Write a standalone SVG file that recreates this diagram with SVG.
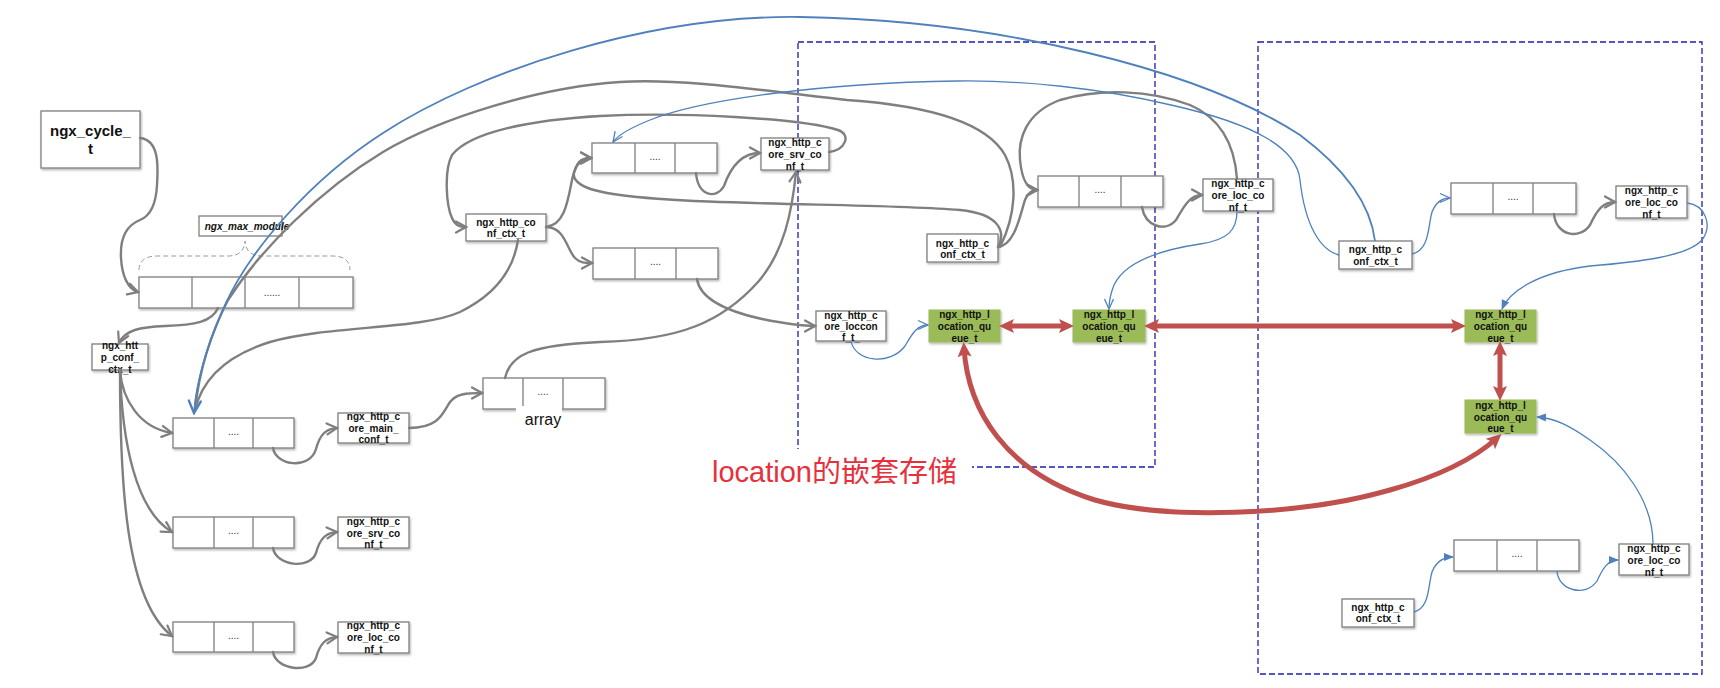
<svg xmlns="http://www.w3.org/2000/svg" width="1720" height="688" viewBox="0 0 1720 688">
<style>
.bx{fill:#fff;stroke:#7f7f7f;stroke-width:1.3;filter:url(#sh)}
.gr{fill:#9bbb59;stroke:#9bbb59;stroke-width:1;filter:url(#sh)}
.cl{stroke:#7f7f7f;stroke-width:1.3}
.t{font-family:"Liberation Sans",Arial,sans-serif;font-size:10px;font-weight:bold;fill:#111;text-anchor:middle}
.d{font-family:"Liberation Sans",Arial,sans-serif;font-size:10px;fill:#333;text-anchor:middle}
.g{fill:none;stroke:#7f7f7f;stroke-width:2.4;stroke-linecap:round}
.b{fill:none;stroke:#4f81bd;stroke-width:1.3}
.r{fill:none;stroke:#c0504d;stroke-width:5}
.dash{fill:none;stroke:#1c1cb0;stroke-width:1.3;stroke-dasharray:6 3}
</style>
<defs>
<filter id="sh" x="-10%" y="-10%" width="130%" height="140%"><feDropShadow dx="1" dy="1.5" stdDeviation="1" flood-color="#000" flood-opacity="0.3"/></filter>
<marker id="ga" markerUnits="userSpaceOnUse" viewBox="0 0 14 14" refX="12" refY="7" markerWidth="14" markerHeight="14" orient="auto"><path d="M2,1.5 L12,7 L2,12.5" fill="none" stroke="#7f7f7f" stroke-width="2.2" stroke-linecap="round"/></marker>
<marker id="bo" markerUnits="userSpaceOnUse" viewBox="0 0 12 12" refX="11" refY="6" markerWidth="12" markerHeight="12" orient="auto"><path d="M1,1.5 L11,6 L1,10.5" fill="none" stroke="#4f81bd" stroke-width="1.3"/></marker>
<marker id="bb" markerUnits="userSpaceOnUse" viewBox="0 0 16 16" refX="14" refY="8" markerWidth="16" markerHeight="16" orient="auto"><path d="M2,2 L14,8 L2,14" fill="none" stroke="#4f81bd" stroke-width="2.4" stroke-linecap="round"/></marker>
<marker id="bf" markerUnits="userSpaceOnUse" viewBox="0 0 10 10" refX="9" refY="5" markerWidth="10" markerHeight="10" orient="auto"><path d="M0,1 L10,5 L0,9 z" fill="#4f81bd"/></marker>
<marker id="ra" markerUnits="userSpaceOnUse" viewBox="0 0 16 16" refX="9" refY="8" markerWidth="16" markerHeight="16" orient="auto-start-reverse"><path d="M0,1 L15,8 L0,15 L3,8 z" fill="#c0504d"/></marker>
</defs>
<rect width="1720" height="688" fill="#fff"/>

<g id="frames">
<rect class="dash" x="798" y="42" width="357" height="425"/>
<rect class="dash" x="1258" y="42" width="444" height="632"/>
<rect x="700" y="449" width="272" height="42" fill="#fff"/>
<text x="712" y="482" font-family="'Liberation Sans','Noto Sans CJK SC',sans-serif" font-size="29" fill="#e8303c">location的嵌套存储</text>
</g>

<g id="ngx_cycle_t"><rect class="bx" x="41" y="111" width="99" height="57"/>
<text class="t" x="90.5" y="136" style="font-size:15px">ngx_cycle_</text><text class="t" x="90.5" y="153.5" style="font-size:15px">t</text></g>

<g id="ngx_max_module"><rect class="bx" x="199" y="216" width="83" height="20" style="filter:none"/>
<text class="t" x="247" y="229.5" font-style="italic">ngx_max_module</text>
<path d="M139,270 Q139,256 158,256 L228,256 Q244,256 245,241 Q246,256 262,256 L332,256 Q350,256 350,270" fill="none" stroke="#9a9a9a" stroke-width="1" stroke-dasharray="5 3"/></g>

<g id="modules_array"><rect class="bx" x="139" y="277" width="214" height="31"/>
<path class="cl" d="M192,277V308M245,277V308M299,277V308"/><text class="d" x="272" y="296">......</text></g>

<g id="http_conf_ctx"><rect class="bx" x="92" y="344" width="56" height="26"/>
<text class="t" x="120" y="349">ngx_htt</text><text class="t" x="120" y="361">p_conf_</text><text class="t" x="120" y="373">ctx_t</text></g>

<g id="main_arr"><rect class="bx" x="173" y="418" width="121" height="30"/><path class="cl" d="M214,418V448M253,418V448"/><text class="d" x="233.5" y="435">....</text></g>
<g id="srv_arr"><rect class="bx" x="173" y="517" width="121" height="31"/><path class="cl" d="M214,517V548M253,517V548"/><text class="d" x="233.5" y="534">....</text></g>
<g id="loc_arr"><rect class="bx" x="173" y="622" width="121" height="30"/><path class="cl" d="M214,622V652M253,622V652"/><text class="d" x="233.5" y="639">....</text></g>

<g id="core_main_conf"><rect class="bx" x="338" y="413" width="71" height="30"/>
<text class="t" x="373.5" y="419.5">ngx_http_c</text><text class="t" x="373.5" y="431.5">ore_main_</text><text class="t" x="373.5" y="443">conf_t</text></g>
<g id="core_srv_conf_l"><rect class="bx" x="338" y="517" width="71" height="31"/>
<text class="t" x="373.5" y="524.5">ngx_http_c</text><text class="t" x="373.5" y="536.5">ore_srv_co</text><text class="t" x="373.5" y="548">nf_t</text></g>
<g id="core_loc_conf_l"><rect class="bx" x="338" y="622" width="71" height="31"/>
<text class="t" x="373.5" y="628.5">ngx_http_c</text><text class="t" x="373.5" y="640.5">ore_loc_co</text><text class="t" x="373.5" y="652.5">nf_t</text></g>

<g id="servers_array"><rect class="bx" x="483" y="378" width="122" height="31"/><path class="cl" d="M523,378V409M563,378V409"/><text class="d" x="543" y="395">....</text>
<rect x="516" y="406" width="46" height="24" fill="#fff"/>
<text x="543" y="425" font-family="'Liberation Sans',Arial,sans-serif" font-size="16" fill="#111" text-anchor="middle">array</text></g>

<g id="srv_conf_ctx"><rect class="bx" x="466" y="214" width="80" height="27"/>
<text class="t" x="506" y="225.5">ngx_http_co</text><text class="t" x="506" y="237">nf_ctx_t</text></g>
<g id="srv_srv_arr"><rect class="bx" x="592" y="143" width="125" height="30"/><path class="cl" d="M635,143V173M675,143V173"/><text class="d" x="655" y="160">....</text></g>
<g id="srv_loc_arr"><rect class="bx" x="593" y="248" width="125" height="31"/><path class="cl" d="M635,248V279M676,248V279"/><text class="d" x="655.5" y="265">....</text></g>
<g id="core_srv_conf"><rect class="bx" x="761" y="138" width="68" height="32"/>
<text class="t" x="795" y="146">ngx_http_c</text><text class="t" x="795" y="158">ore_srv_co</text><text class="t" x="795" y="169.5">nf_t</text></g>
<g id="core_locconf"><rect class="bx" x="816" y="311" width="70" height="30"/>
<text class="t" x="851" y="318.5">ngx_http_c</text><text class="t" x="851" y="330">ore_loccon</text><text class="t" x="851" y="341">f_t_</text></g>

<g id="loc_conf_ctx"><rect class="bx" x="927" y="234" width="71" height="28"/>
<text class="t" x="962.5" y="246.5">ngx_http_c</text><text class="t" x="962.5" y="258">onf_ctx_t</text></g>
<g id="loc_loc_arr"><rect class="bx" x="1038" y="176" width="125" height="31"/><path class="cl" d="M1079,176V207M1121,176V207"/><text class="d" x="1100" y="193">....</text></g>
<g id="core_loc_conf_m"><rect class="bx" x="1203" y="179" width="70" height="32"/>
<text class="t" x="1238" y="186.5">ngx_http_c</text><text class="t" x="1238" y="198.5">ore_loc_co</text><text class="t" x="1238" y="210.5">nf_t</text></g>

<g id="queue1"><rect class="gr" x="929" y="310" width="71" height="32"/>
<text class="t" x="964.5" y="317.5">ngx_http_l</text><text class="t" x="964.5" y="329.5">ocation_qu</text><text class="t" x="964.5" y="341.5">eue_t</text></g>
<g id="queue2"><rect class="gr" x="1073" y="310" width="72" height="32"/>
<text class="t" x="1109" y="317.5">ngx_http_l</text><text class="t" x="1109" y="329.5">ocation_qu</text><text class="t" x="1109" y="341.5">eue_t</text></g>
<g id="queue3"><rect class="gr" x="1465" y="310" width="71" height="32"/>
<text class="t" x="1500.5" y="317.5">ngx_http_l</text><text class="t" x="1500.5" y="329.5">ocation_qu</text><text class="t" x="1500.5" y="341.5">eue_t</text></g>
<g id="queue4"><rect class="gr" x="1465" y="400" width="71" height="33"/>
<text class="t" x="1500.5" y="408.5">ngx_http_l</text><text class="t" x="1500.5" y="420.5">ocation_qu</text><text class="t" x="1500.5" y="432">eue_t</text></g>

<g id="conf_ctx_r"><rect class="bx" x="1339" y="241" width="73" height="28"/>
<text class="t" x="1375.5" y="252.5">ngx_http_c</text><text class="t" x="1375.5" y="264.5">onf_ctx_t</text></g>
<g id="arr_r"><rect class="bx" x="1451" y="183" width="125" height="31"/><path class="cl" d="M1493,183V214M1533,183V214"/><text class="d" x="1513" y="200">....</text></g>
<g id="core_loc_conf_r"><rect class="bx" x="1616" y="186" width="71" height="32"/>
<text class="t" x="1651.5" y="193.5">ngx_http_c</text><text class="t" x="1651.5" y="205.5">ore_loc_co</text><text class="t" x="1651.5" y="217.5">nf_t</text></g>
<g id="conf_ctx_b"><rect class="bx" x="1342" y="599" width="72" height="28"/>
<text class="t" x="1378" y="610.5">ngx_http_c</text><text class="t" x="1378" y="622">onf_ctx_t</text></g>
<g id="arr_b"><rect class="bx" x="1454" y="540" width="125" height="31"/><path class="cl" d="M1497,540V571M1537,540V571"/><text class="d" x="1517" y="557">....</text></g>
<g id="core_loc_conf_b"><rect class="bx" x="1619" y="544" width="70" height="31"/>
<text class="t" x="1654" y="551.5">ngx_http_c</text><text class="t" x="1654" y="563.5">ore_loc_co</text><text class="t" x="1654" y="575.5">nf_t</text></g>

<g id="connectors">
<path class="g" marker-end="url(#ga)" d="M140,138 C160,140 158,168 157,185 C156,205 150,216 140,220 C125,226 120,240 121,258 C122,276 128,289 138,292"/>
<path class="g" marker-end="url(#ga)" d="M218,308 C212,322 195,325 165,326 C140,327 125,330 119,343"/>
<path class="g" marker-end="url(#ga)" d="M120,370 C122,400 140,428 172,433"/>
<path class="g" marker-end="url(#ga)" d="M120,370 C122,440 135,510 172,532"/>
<path class="g" marker-end="url(#ga)" d="M120,370 C120,480 125,600 172,636"/>
<path class="g" marker-end="url(#ga)" d="M273,448 C276,466 310,470 316,449 C320,434 326,429 337,428"/>
<path class="g" marker-end="url(#ga)" d="M273,548 C276,566 310,570 316,553 C320,538 326,533 337,532"/>
<path class="g" marker-end="url(#ga)" d="M273,652 C276,670 310,674 316,658 C320,643 326,638 337,637"/>
<path class="g" marker-end="url(#ga)" d="M409,428 C440,428 443,412 450,402 C456,394 466,393 482,393"/>
<path class="g" marker-end="url(#ga)" d="M505,378 C510,355 530,345 600,342 C680,340 722,322 758,282 C784,252 792,212 796,172"/>
<path class="g" marker-end="url(#ga)" d="M546,227 C565,225 568,200 572,180 C576,162 580,158 591,158"/>
<path class="g" marker-end="url(#ga)" d="M546,227 C565,227 567,250 575,258 C580,263 585,263 592,263"/>
<path class="g" d="M518,240 C515,260 505,290 460,312 C420,330 330,325 270,342 C225,356 202,380 195,410"/>
<path class="g" marker-end="url(#ga)" d="M696,173 C698,196 716,200 724,186 C731,166 742,153 760,153"/>
<path class="g" marker-end="url(#ga)" d="M697,279 C700,300 730,312 762,319 C787,324 800,326 815,326"/>
<path class="g" marker-end="url(#ga)" d="M829,152 C845,150 852,135 838,130 C800,118 680,112 600,116 C530,120 470,132 452,155 C444,170 446,205 452,218 C455,225 459,227 466,227"/>
<path class="g" marker-end="url(#ga)" d="M998,247 C1006,232 1000,214 960,210 C880,203 700,206 620,195 C580,190 570,180 575,170 C578,162 583,158 591,158"/>
<path class="g" marker-end="url(#ga)" d="M998,247 C1015,245 1020,215 1025,200 C1028,192 1032,190 1037,190"/>
<path class="g" d="M1000,247 C1016,215 1018,180 1005,155 C985,120 920,105 847,100 C760,90 680,78 620,82 C540,87 440,118 383,152 C320,190 260,250 228,300 C210,335 199,372 195,410"/>
<path class="g" marker-end="url(#ga)" d="M1237,179 C1235,150 1225,120 1190,105 C1150,90 1100,88 1060,100 C1025,113 1018,140 1020,160 C1022,180 1028,190 1037,190"/>
<path class="g" marker-end="url(#ga)" d="M1142,207 C1145,226 1165,233 1176,220 C1184,206 1190,195 1202,195"/>
<path class="g" marker-end="url(#ga)" d="M1554,214 C1556,236 1580,240 1590,225 C1597,210 1603,202 1615,202"/>
<path class="b" marker-end="url(#bb)" style="stroke-width:1.8" d="M1375,241 C1370,200 1340,165 1300,135 C1200,70 1000,20 800,17 C650,15 480,70 383,133 C310,180 250,250 225,305 C205,350 196,385 194,413"/>
<path class="b" marker-end="url(#bo)" d="M1339,255 C1320,250 1305,225 1300,180 C1297,150 1260,125 1171,105 C1100,88 1020,80 957,81 C820,83 700,100 650,120 C630,128 618,135 613,142"/>
<path class="b" marker-end="url(#bo)" d="M851,341 C855,362 890,366 905,346 C912,334 917,325 928,325"/>
<path class="b" marker-end="url(#bo)" d="M1237,211 C1237,230 1228,240 1200,244 C1160,250 1125,262 1114,285 C1110,295 1109,302 1109,309"/>
<path class="b" marker-end="url(#bo)" d="M1412,254 C1430,250 1428,225 1432,212 C1436,202 1442,198 1450,198"/>
<path class="b" marker-end="url(#bf)" d="M1687,203 C1705,205 1713,225 1702,240 C1688,256 1640,262 1590,266 C1540,272 1510,290 1502,309"/>
<path class="b" marker-end="url(#bf)" d="M1414,612 C1430,608 1428,585 1432,572 C1436,562 1442,557 1453,557"/>
<path class="b" marker-end="url(#bf)" d="M1557,571 C1558,590 1585,598 1597,581 C1603,568 1608,560 1618,560"/>
<path class="b" marker-end="url(#bf)" d="M1653,544 C1653,500 1622,462 1590,440 C1570,426 1555,418 1537,417"/>
<path class="r" marker-start="url(#ra)" marker-end="url(#ra)" d="M1005,326 L1068,326"/>
<path class="r" marker-start="url(#ra)" marker-end="url(#ra)" d="M1150,326 L1460,326"/>
<path class="r" marker-start="url(#ra)" marker-end="url(#ra)" d="M1500,347 L1500,395"/>
<path class="r" marker-start="url(#ra)" marker-end="url(#ra)" d="M964,348 C968,410 1005,472 1095,500 C1165,520 1300,516 1390,490 C1440,476 1475,458 1497,438"/>
</g>
</svg>
